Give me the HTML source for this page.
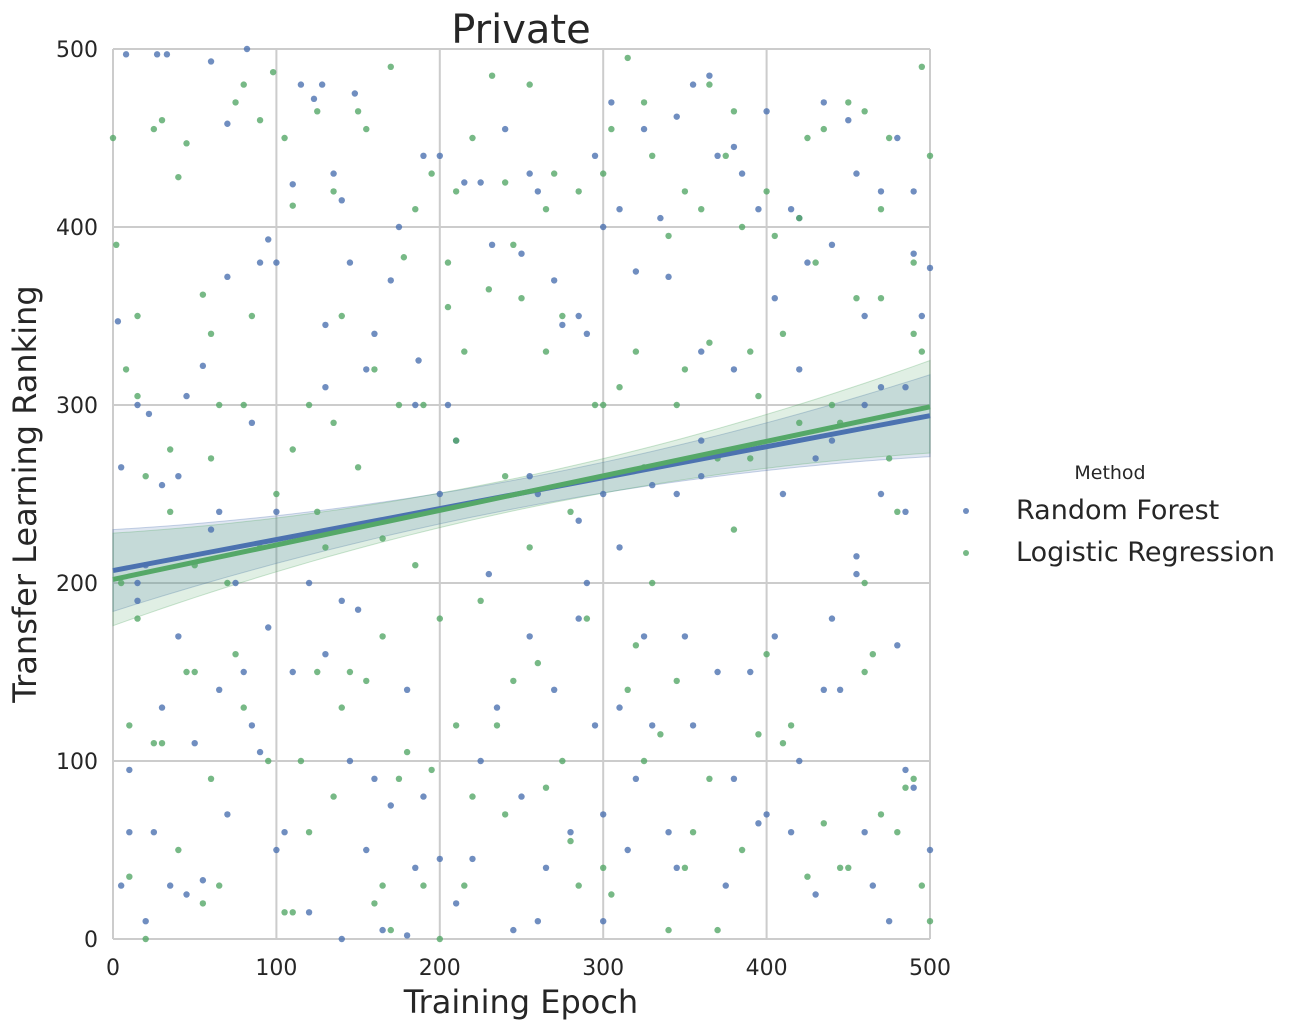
<!DOCTYPE html>
<html><head><meta charset="utf-8"><style>
body{margin:0;background:#fff;}
svg text{font-family:"DejaVu Sans","Liberation Sans",sans-serif;fill:#262626;}
</style></head><body>
<svg id="chart" width="1309" height="1030" xmlns="http://www.w3.org/2000/svg">
<g id="grid"></g>
<g id="bands"></g>
<g id="pts"></g>
<g id="lines"></g>
<g id="ticks"></g>
<text x="521" y="43" font-size="40" text-anchor="middle">Private</text>
<text x="521" y="1013" font-size="32" text-anchor="middle">Training Epoch</text>
<text transform="translate(36,494) rotate(-90)" font-size="32" text-anchor="middle">Transfer Learning Ranking</text>
<g>
<text x="1110" y="479" font-size="19" text-anchor="middle">Method</text>
<circle cx="966" cy="511" r="3" fill="#4c72b0" opacity="0.8"/>
<text x="1016" y="519" font-size="27">Random Forest</text>
<circle cx="966" cy="553" r="3" fill="#55a868" opacity="0.8"/>
<text x="1016" y="561" font-size="27">Logistic Regression</text>
</g>
</svg>
<script>
const xTicks=[0,100,200,300,400,500];
const yTicks=[0,100,200,300,400,500];
const rfX=[8,27,33,60,70,82,123,110,128,148,190,200,260,305,345,365,400,450,480,490,22,20,5,3,45,55,70,95,90,130,130,140,160,175,187,225,232,250,270,290,300,320,340,360,380,395,420,440,460,490,500,15,30,60,40,80,90,10,20,5,35,55,70,100,110,130,140,150,160,180,190,210,225,250,270,280,300,310,330,340,350,370,380,390,400,420,430,445,460,475,490,500,140,245,165,180,345,360,410,430,470,485,290,310,230,260,210,200,120,100,95,50,30,25,15,260,300,320,405,440,480,460,485,420,380,
15,40,65,85,100,115,135,145,155,170,185,205,215,240,255,275,285,295,310,325,335,355,370,385,405,415,425,435,455,470,495,10,45,65,85,105,120,145,155,170,185,200,220,235,255,265,285,295,315,325,345,355,375,395,415,435,455,465,485,75,255,300,455,470,440,360,330,285];
const rfY=[497,497,497,493,458,500,472,424,480,475,440,440,420,470,462,485,465,460,450,420,295,210,265,347,305,322,372,393,380,310,345,415,340,400,325,425,390,385,370,340,400,375,372,330,445,410,405,390,350,385,377,200,255,230,170,150,105,95,10,30,30,33,70,50,150,160,190,185,90,140,80,20,100,80,140,60,70,130,120,60,170,150,90,150,70,100,25,140,60,10,85,50,0,5,5,2,250,280,250,270,250,240,200,220,205,250,280,250,200,240,175,110,130,60,190,10,10,90,170,180,165,300,310,320,320,
300,260,240,290,380,480,430,380,320,370,300,300,425,455,430,345,350,440,410,455,405,480,440,430,360,410,380,470,430,420,350,60,25,140,120,60,15,100,50,75,40,45,45,130,170,40,180,120,50,170,40,120,30,65,60,140,205,30,95,200,260,250,215,310,280,260,255,235];
const lrX=[0,2,15,25,40,45,55,75,90,98,110,125,150,170,178,195,205,220,232,240,255,270,300,315,330,340,360,375,385,400,420,435,460,470,490,500,8,10,20,35,50,65,85,110,125,140,160,175,190,205,215,230,250,265,295,320,345,365,390,410,430,455,470,495,5,25,40,50,60,75,90,105,125,140,155,165,175,190,200,215,225,240,260,275,285,300,320,335,350,365,380,400,410,425,445,460,470,485,495,500,20,200,160,130,280,300,330,390,445,460,475,480,340,10,70,110,170,
30,45,55,65,80,95,115,120,135,145,165,180,195,210,220,235,245,265,280,290,305,315,325,345,355,370,385,395,415,435,450,465,480,490,15,35,60,80,100,120,135,150,165,185,210,240,255,275,310,325,350,370,395,420,440,15,30,60,80,105,135,155,185,210,245,265,285,305,325,350,365,380,405,425,450,475,490,495];
const lrY=[450,390,305,455,428,447,362,470,460,487,412,465,465,490,383,430,380,450,485,425,480,430,430,495,440,395,410,440,400,420,405,455,465,410,380,440,320,120,260,275,210,300,350,275,240,350,320,300,300,355,330,365,360,330,300,330,300,335,330,340,380,360,360,330,200,110,50,150,90,160,220,15,150,130,145,170,90,30,180,30,190,70,155,100,30,40,165,115,40,90,230,160,110,35,40,150,70,85,30,10,0,0,20,220,240,300,200,270,290,200,270,240,5,35,200,15,5,
110,150,20,30,130,100,100,60,80,150,30,105,95,120,80,120,145,85,55,180,25,140,100,145,60,5,50,115,120,65,40,160,60,90,180,240,270,300,250,300,290,265,225,210,280,260,220,350,310,265,320,270,305,290,300,350,460,340,480,450,420,455,410,420,390,410,420,455,470,420,480,465,395,450,470,450,340,490];
const rfFit=[207,294];
const lrFit=[202,299];
const X0=113,X1=930,Y0=939,Y1=49;
const sx=v=>X0+(v-0)/500*(X1-X0);
const sy=v=>Y0-(v-0)/500*(Y0-Y1);
const NS="http://www.w3.org/2000/svg";
function mk(t,a,p){const e=document.createElementNS(NS,t);for(const k in a)e.setAttribute(k,a[k]);p.appendChild(e);return e;}
const grid=document.getElementById('grid'),ticks=document.getElementById('ticks');
xTicks.forEach(v=>{const l=mk('line',{x1:sx(v),x2:sx(v),y1:Y1,y2:Y0,stroke:'#cccccc','stroke-width':2},grid);


const t=mk('text',{x:sx(v),y:Y0+36,'font-size':22,'text-anchor':'middle'},ticks);t.textContent=v;

});
yTicks.forEach(v=>{const l=mk('line',{x1:X0,x2:X1,y1:sy(v),y2:sy(v),stroke:'#cccccc','stroke-width':2},grid);


const t=mk('text',{x:X0-15,y:sy(v)+8,'font-size':22,'text-anchor':'end'},ticks);t.textContent=v;

});
function band(fit,mid,end,col,name){let up=[],lo=[];for(let x=0;x<=500;x+=10){const y=fit[0]+(fit[1]-fit[0])*x/500;const h=mid+(end-mid)*Math.pow((x-250)/250,2);up.push(sx(x)+','+sy(y+h));lo.unshift(sx(x)+','+sy(y-h));}
const p=mk('polygon',{points:up.concat(lo).join(' '),fill:col,'fill-opacity':0.18,stroke:col,'stroke-opacity':0.3},document.getElementById('bands'));

}
band(rfFit,8,23,'#4c72b0','rf-confidence-band');
band(lrFit,9,26,'#55a868','lr-confidence-band');
const pts=document.getElementById('pts');
rfX.forEach((x,i)=>{const c=mk('circle',{cx:sx(x),cy:sy(rfY[i]),r:3.2,fill:'#4c72b0','fill-opacity':0.8},pts);

});
lrX.forEach((x,i)=>{const c=mk('circle',{cx:sx(x),cy:sy(lrY[i]),r:3.2,fill:'#55a868','fill-opacity':0.8},pts);

});
const lines=document.getElementById('lines');
const l1=mk('line',{x1:sx(0),y1:sy(rfFit[0]),x2:sx(500),y2:sy(rfFit[1]),stroke:'#4c72b0','stroke-width':5},lines);


const l2=mk('line',{x1:sx(0),y1:sy(lrFit[0]),x2:sx(500),y2:sy(lrFit[1]),stroke:'#55a868','stroke-width':5},lines);


</script>
</body></html>
